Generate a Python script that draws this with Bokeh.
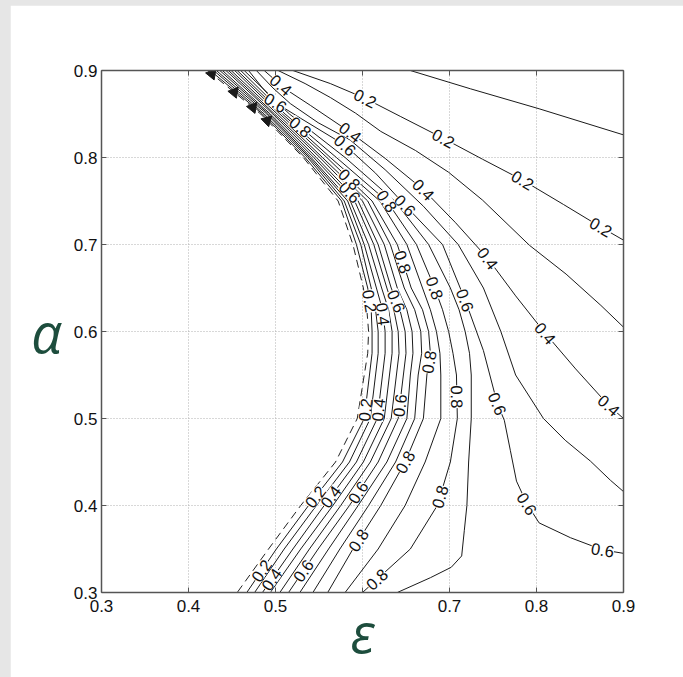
import math
from bokeh.plotting import figure
from bokeh.models import (Range1d, FixedTicker, LinearAxis, ColumnDataSource,
                          GlobalInlineStyleSheet)
from bokeh.core.properties import value
from bokeh.embed import file_html
from bokeh.resources import INLINE

# ---------------- data ----------------
X_TICKS = [0.3, 0.4, 0.5, 0.6, 0.7, 0.8, 0.9]
X_TICK_LABELS = ["0.3", "0.4", "0.5", "", "0.7", "0.8", "0.9"]
Y_TICKS = [0.3, 0.4, 0.5, 0.6, 0.7, 0.8, 0.9]
Y_TICK_LABELS = ["0.3", "0.4", "0.5", "0.6", "0.7", "0.8", "0.9"]
X_LABEL = "ε"
Y_LABEL = "α"

# alpha values at which the C-shaped contours were sampled
ROW_Y = [0.90, 0.85, 0.80, 0.75, 0.70, 0.65, 0.625, 0.60, 0.575, 0.55, 0.50, 0.45, 0.40, 0.35, 0.30]

# epsilon of each C-shaped contour at ROW_Y (innermost dashed first)
D_X  = [0.422, 0.483, 0.532, 0.572, 0.589, 0.601, 0.605, 0.607, 0.606, 0.602, 0.594, 0.569, 0.529, 0.492, 0.456]
I1_X = [0.425, 0.485, 0.534, 0.576, 0.593, 0.606, 0.610, 0.611, 0.611, 0.608, 0.602, 0.577, 0.538, 0.501, 0.467]
I2_X = [0.429, 0.487, 0.537, 0.579, 0.598, 0.610, 0.615, 0.618, 0.618, 0.615, 0.609, 0.585, 0.547, 0.510, 0.476]
I3_X = [0.432, 0.490, 0.539, 0.583, 0.602, 0.616, 0.623, 0.626, 0.626, 0.623, 0.617, 0.593, 0.556, 0.520, 0.485]
I4_X = [0.436, 0.492, 0.541, 0.586, 0.607, 0.622, 0.630, 0.634, 0.634, 0.631, 0.625, 0.601, 0.566, 0.529, 0.494]
I5_X = [0.439, 0.494, 0.544, 0.591, 0.613, 0.628, 0.636, 0.641, 0.642, 0.639, 0.633, 0.609, 0.575, 0.539, 0.505]
I6_X = [0.443, 0.497, 0.547, 0.595, 0.618, 0.633, 0.643, 0.649, 0.650, 0.647, 0.641, 0.618, 0.585, 0.549, 0.515]
I7_X = [0.446, 0.499, 0.551, 0.600, 0.625, 0.640, 0.651, 0.657, 0.658, 0.655, 0.651, 0.628, 0.595, 0.561, 0.528]
I8_X = [0.449, 0.502, 0.554, 0.606, 0.632, 0.648, 0.660, 0.667, 0.668, 0.664, 0.660, 0.638, 0.607, 0.574, 0.543]
I9_X = [0.453, 0.505, 0.559, 0.611, 0.640, 0.656, 0.669, 0.676, 0.678, 0.674, 0.670, 0.649, 0.621, 0.589, 0.560]
M_X  = [0.456, 0.508, 0.563, 0.620, 0.651, 0.669, 0.678, 0.685, 0.689, 0.690, 0.690, 0.672, 0.649, 0.618, 0.580]
O8_X = [0.460, 0.511, 0.570, 0.628, 0.662, 0.683, 0.692, 0.699, 0.704, 0.708, 0.709, 0.701, 0.686, 0.655, 0.600]

# outer contours (free form)
O7_X = [0.464, 0.516, 0.580, 0.637, 0.676, 0.701, 0.711, 0.718, 0.723, 0.725, 0.725, 0.722, 0.720, 0.717, 0.714, 0.702, 0.678, 0.640]
O7_Y = [0.900, 0.850, 0.800, 0.750, 0.700, 0.650, 0.625, 0.600, 0.575, 0.550, 0.500, 0.450, 0.400, 0.371, 0.342, 0.329, 0.317, 0.300]
O6_X = [0.469, 0.485, 0.500, 0.529, 0.580, 0.615, 0.649, 0.692, 0.718, 0.739, 0.755, 0.763, 0.770, 0.777, 0.789, 0.803, 0.839, 0.876, 0.900]
O6_Y = [0.900, 0.880, 0.863, 0.845, 0.814, 0.782, 0.745, 0.700, 0.636, 0.578, 0.517, 0.498, 0.463, 0.428, 0.402, 0.380, 0.363, 0.349, 0.345]
O5_X = [0.478, 0.497, 0.517, 0.549, 0.586, 0.626, 0.670, 0.710, 0.739, 0.759, 0.776, 0.808, 0.833, 0.862, 0.885, 0.900]
O5_Y = [0.900, 0.880, 0.862, 0.840, 0.820, 0.786, 0.744, 0.700, 0.650, 0.600, 0.550, 0.500, 0.475, 0.451, 0.429, 0.416]
O4_X = [0.487, 0.511, 0.540, 0.586, 0.626, 0.670, 0.707, 0.744, 0.776, 0.810, 0.845, 0.883, 0.900]
O4_Y = [0.900, 0.879, 0.860, 0.829, 0.799, 0.763, 0.725, 0.684, 0.641, 0.598, 0.557, 0.515, 0.500]
O3_X = [0.503, 0.534, 0.563, 0.592, 0.621, 0.661, 0.699, 0.738, 0.792, 0.834, 0.874, 0.900]
O3_Y = [0.900, 0.885, 0.869, 0.851, 0.830, 0.808, 0.783, 0.751, 0.699, 0.666, 0.630, 0.605]
O2_X = [0.520, 0.563, 0.603, 0.644, 0.693, 0.738, 0.784, 0.831, 0.874, 0.900]
O2_Y = [0.900, 0.885, 0.868, 0.847, 0.822, 0.798, 0.774, 0.746, 0.720, 0.705]
O1_X = [0.655, 0.724, 0.803, 0.900]
O1_Y = [0.900, 0.879, 0.856, 0.826]

# dark wedge artefacts along the dashed contour near the top (position along its points)
WEDGE_T = [0.08, 0.5, 0.85, 1.15]

# inline contour labels: (contour, text, position along the contour's points)
CONTOUR_LABELS = [
    ("O2", "0.2", 2.0), ("O2", "0.2", 4.0), ("O2", "0.2", 6.0), ("O2", "0.2", 8.0),
    ("O4", "0.4", 0.8), ("O4", "0.4", 3.0), ("O4", "0.4", 5.0), ("O4", "0.4", 7.0),
    ("O4", "0.4", 9.0), ("O4", "0.4", 11.0),
    ("O6", "0.6", 2.0), ("O6", "0.6", 4.0), ("O6", "0.6", 6.0), ("O6", "0.6", 8.0),
    ("O6", "0.6", 10.0), ("O6", "0.6", 14.0), ("O6", "0.6", 17.0),
    ("O8", "0.8", 1.3), ("O8", "0.8", 3.0), ("O8", "0.8", 5.0), ("O8", "0.8", 9.5),
    ("O8", "0.8", 11.8), ("O8", "0.8", 13.7),
    ("I1", "0.2", 5.6), ("I1", "0.2", 9.8), ("I1", "0.2", 11.8), ("I1", "0.2", 13.5),
    ("I3", "0.4", 6.2), ("I3", "0.4", 9.8), ("I3", "0.4", 11.8), ("I3", "0.4", 13.7),
    ("I6", "0.6", 2.8), ("I6", "0.6", 5.6), ("I6", "0.6", 9.7), ("I6", "0.6", 11.7), ("I6", "0.6", 13.5),
    ("I9", "0.8", 2.5), ("I9", "0.8", 4.4), ("I9", "0.8", 8.4), ("I9", "0.8", 11.0), ("I9", "0.8", 12.8),
]

# ---------------- build ----------------
lines = {
    "D": (D_X, ROW_Y), "I1": (I1_X, ROW_Y), "I2": (I2_X, ROW_Y), "I3": (I3_X, ROW_Y),
    "I4": (I4_X, ROW_Y), "I5": (I5_X, ROW_Y), "I6": (I6_X, ROW_Y), "I7": (I7_X, ROW_Y),
    "I8": (I8_X, ROW_Y), "I9": (I9_X, ROW_Y), "M": (M_X, ROW_Y), "O8": (O8_X, ROW_Y),
    "O7": (O7_X, O7_Y), "O6": (O6_X, O6_Y), "O5": (O5_X, O5_Y), "O4": (O4_X, O4_Y),
    "O3": (O3_X, O3_Y), "O2": (O2_X, O2_Y), "O1": (O1_X, O1_Y),
}


def along(xs, ys, t):
    i = min(int(math.floor(t)), len(xs) - 2)
    f = t - i
    x = xs[i] + f * (xs[i + 1] - xs[i])
    y = ys[i] + f * (ys[i + 1] - ys[i])
    ang = math.atan2(ys[i + 1] - ys[i], xs[i + 1] - xs[i])
    return x, y, ang


page_css = GlobalInlineStyleSheet(css="""
html, body { margin: 0 !important; padding: 0; background: #e6e6e6; overflow: hidden; }
body { padding: 5px 0 0 10px !important; }
""")

p = figure(frame_width=522, frame_height=522,
           x_range=Range1d(0.3, 0.9), y_range=Range1d(0.3, 0.9),
           output_backend="svg", toolbar_location=None,
           min_border_left=91, min_border_right=60, min_border_top=65, min_border_bottom=85,
           background_fill_color="white", border_fill_color="white")
p.stylesheets = [page_css]
p.outline_line_color = None

xax, yax = p.xaxis[0], p.yaxis[0]
for ax in (xax, yax):
    ax.major_label_text_font = "Liberation Sans"
    ax.major_label_text_font_size = "17px"
    ax.major_label_text_color = "#111111"
xax.ticker = FixedTicker(ticks=X_TICKS)
xax.major_label_overrides = {t: s for t, s in zip(X_TICKS, X_TICK_LABELS)}
yax.ticker = FixedTicker(ticks=Y_TICKS)
yax.major_label_overrides = {t: s for t, s in zip(Y_TICKS, Y_TICK_LABELS)}
xax.major_label_standoff = 7
yax.major_label_standoff = 4

# Greek axis labels
for ax in (xax, yax):
    ax.axis_label_text_font = "Open Sans"
    ax.axis_label_text_font_style = "italic"
    ax.axis_label_text_font_size = "54px"
    ax.axis_label_text_color = "#1d4d3d"
xax.axis_label = X_LABEL
xax.axis_label_standoff = -20
yax.axis_label = Y_LABEL
yax.axis_label_standoff = 9
if "axis_label_orientation" in yax.properties():
    yax.axis_label_orientation = "horizontal"

top_ax = LinearAxis(ticker=FixedTicker(ticks=X_TICKS),
                    major_label_overrides={t: "" for t in X_TICKS})
right_ax = LinearAxis(ticker=FixedTicker(ticks=Y_TICKS),
                      major_label_overrides={t: "" for t in Y_TICKS})
p.add_layout(top_ax, "above")
p.add_layout(right_ax, "right")

for ax in (xax, yax, top_ax, right_ax):
    ax.major_tick_in = 5
    ax.major_tick_out = 0
    ax.minor_tick_line_color = None
    ax.axis_line_color = "#555555"
    ax.axis_line_width = 1.5
    ax.major_tick_line_color = "#555555"

p.xgrid.ticker = FixedTicker(ticks=X_TICKS[1:-1])
p.ygrid.ticker = FixedTicker(ticks=Y_TICKS[1:-1])
for g in (p.xgrid[0], p.ygrid[0]):
    g.grid_line_color = "#b0b0b0"
    g.grid_line_dash = "1 2"
    g.grid_line_width = 1

for name, (xs, ys) in lines.items():
    if name == "D":
        p.line(xs, ys, line_color="#222222", line_width=1, line_dash="8 5")
    else:
        p.line(xs, ys, line_color="#1a1a1a", line_width=1)

# wedge artefacts
wx, wy, wa = [], [], []
for t in WEDGE_T:
    x, y, a = along(D_X, ROW_Y, t)
    wx.append(x); wy.append(y); wa.append(a)
p.scatter(wx, wy, marker="triangle", size=11, angle=wa, fill_color="#1a1a1a",
          line_color="#1a1a1a")

lx, ly, lt, la = [], [], [], []
for name, txt, t in CONTOUR_LABELS:
    xs, ys = lines[name]
    x, y, ang = along(xs, ys, t)
    if ang > math.pi / 2:
        ang -= math.pi
    if ang < -math.pi / 2:
        ang += math.pi
    lx.append(x); ly.append(y); lt.append(txt); la.append(ang)

src = ColumnDataSource(dict(x=lx, y=ly, text=lt, angle=la))
p.text(x="x", y="y", text="text", angle="angle", source=src,
       text_align="center", text_baseline="middle",
       text_font=value("Liberation Sans"), text_font_size="16.5px", text_color="#111111",
       background_fill_color="white")

open("out.html", "w").write(file_html(p, INLINE))
